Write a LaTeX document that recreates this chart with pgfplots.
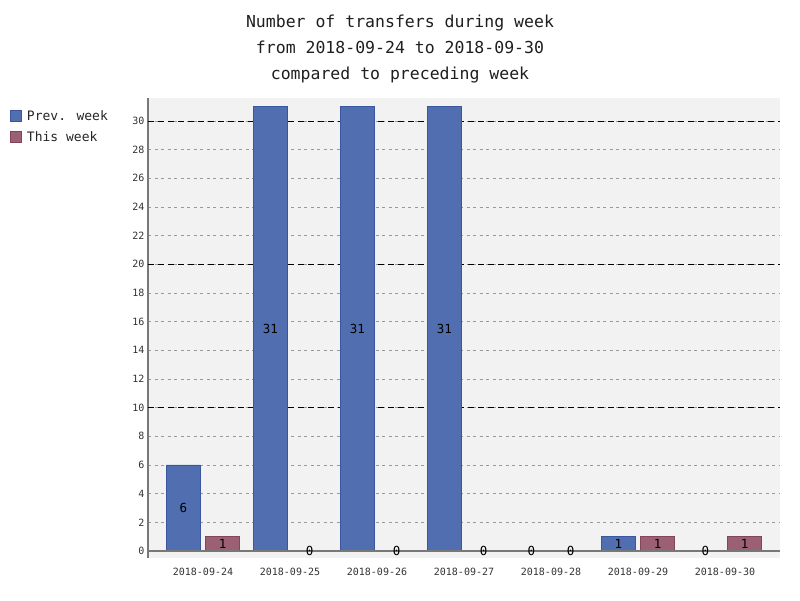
\documentclass[border=0pt]{standalone}
\usepackage{fontspec}
\setmainfont{DejaVu Sans Mono}
\usepackage{pgfplots}
\pgfplotsset{compat=1.18}
\usepackage{pgfplotstable}

\definecolor{prevfill}{RGB}{80,110,176}
\definecolor{prevdraw}{RGB}{58,86,160}
\definecolor{thisfill}{RGB}{155,96,115}
\definecolor{thisdraw}{RGB}{130,70,92}
\definecolor{plotbg}{RGB}{242,242,242}
\definecolor{axisgray}{RGB}{120,120,120}

% transfers per day
\pgfplotstableread{
x prev this
0 6  1
1 31 0
2 31 0
3 31 0
4 0  0
5 1  1
6 0  1
}\weekdata

\begin{document}
\begin{tikzpicture}[x=1pt,y=1pt]
\useasboundingbox[fill=white] (0,0) rectangle (800,600);
\node[align=center, font=\fontsize{16.5}{26}\selectfont, text=black!88] at (400,551)
  {Number of transfers during week\\from 2018-09-24 to 2018-09-30\\compared to preceding week};
\begin{axis}[
  at={(148pt,42pt)}, anchor=south west,
  scale only axis, width=632pt, height=460pt,
  xmin=-0.632, xmax=6.632, ymin=-0.49, ymax=31.6,
  axis background/.style={fill=plotbg},
  axis y line*=left, axis x line*=bottom,
  x axis line style={draw=none},
  y axis line style={draw=axisgray, line width=1.3pt, -},
  major tick length=0pt,
  xtick={0,...,6},
  xticklabels={2018-09-24,2018-09-25,2018-09-26,2018-09-27,2018-09-28,2018-09-29,2018-09-30},
  ytick={0,2,...,30},
  /pgf/number format/assume math mode=true,
  ticklabel style={font=\fontsize{10}{12}\selectfont, text=black!80},
  xticklabel style={yshift=-7pt},
  ymajorgrids,
  major grid style={draw=gray!80, dash pattern=on 3pt off 3.5pt, line width=0.6pt},
  extra y ticks={10,20,30},
  extra y tick labels={},
  extra y tick style={grid=major, major grid style={draw=black, dash pattern=on 6pt off 4pt, line width=0.7pt}},
  legend style={at={(axis description cs:-0.2184,0.974)}, anchor=north west,
    draw=none, fill=none, inner sep=0pt, row sep=9pt,
    font=\fontsize{13}{14}\selectfont, text=black!85,
    nodes={inner sep=0pt, anchor=west}},
  legend cell align=left,
  legend image code/.code={\draw[#1, line width=0.8pt] (0pt,-5.5pt) rectangle (11pt,5.5pt);},
  nodes near coords style={anchor=center, font=\fontsize{12.5}{13}\selectfont, text=black},
]
\addplot[ybar, bar width=0.39, bar shift=-0.225, fill=prevfill, draw=prevdraw, line width=0.8pt]
  table[x=x, y=prev] {\weekdata};
\addlegendentry{\hspace{5pt}Prev. week}
\addplot[ybar, bar width=0.39, bar shift=0.225, fill=thisfill, draw=thisdraw, line width=0.8pt]
  table[x=x, y=this] {\weekdata};
\addlegendentry{\hspace{5pt}This week}

\addplot[draw=axisgray, line width=1.3pt, forget plot] coordinates {(-0.632,0) (6.632,0)};

% value labels in the middle of each bar
\addplot[draw=none, mark=none, nodes near coords, point meta=explicit, forget plot]
  table[x expr=\thisrow{x}-0.225, y expr=\thisrow{prev}/2, meta=prev] {\weekdata};
\addplot[draw=none, mark=none, nodes near coords, point meta=explicit, forget plot]
  table[x expr=\thisrow{x}+0.225, y expr=\thisrow{this}/2, meta=this] {\weekdata};
\end{axis}
\end{tikzpicture}
\end{document}
